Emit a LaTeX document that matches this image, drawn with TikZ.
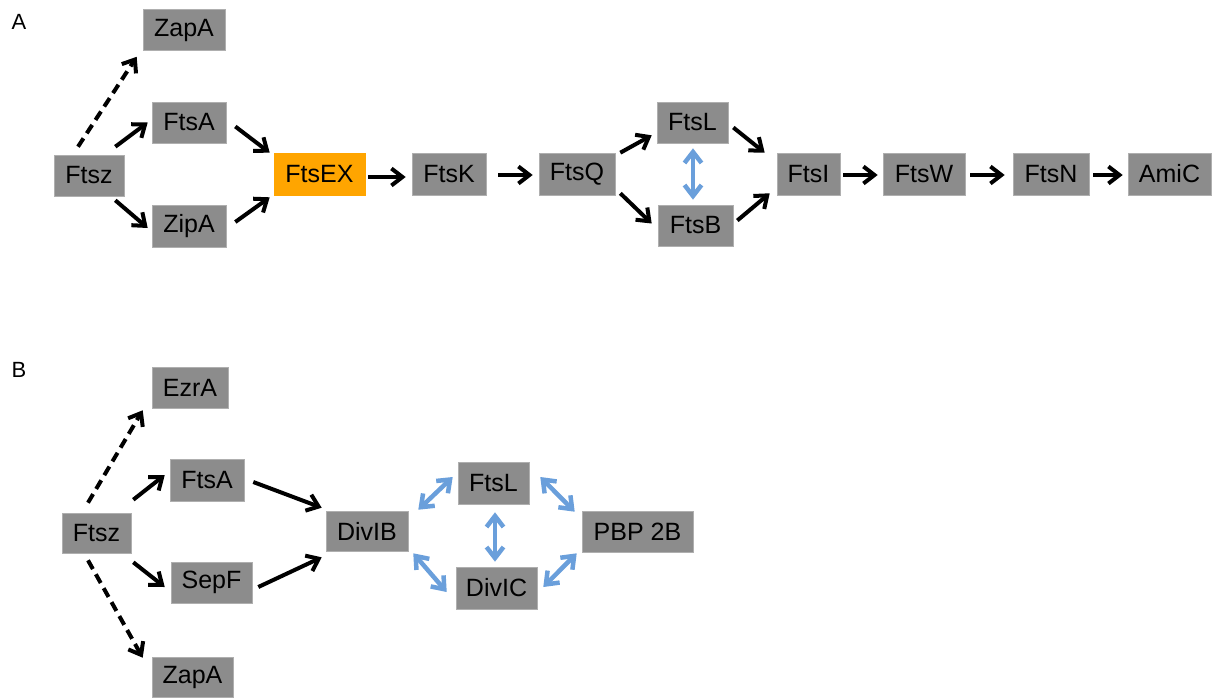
\documentclass[tikz,border=0pt]{standalone}
\usepackage{fontspec}
\setmainfont{Liberation Sans}
\usetikzlibrary{arrows.meta}
\definecolor{boxgrey}{HTML}{8C8C8C}
\definecolor{boxorange}{HTML}{FFA500}
\definecolor{linkblue}{HTML}{6A9FDB}
\tikzset{
  prot/.style={fill=boxgrey, draw=boxgrey!70!white, line width=0.6pt, inner sep=0pt, minimum height=41pt, text=black, font=\fontsize{25}{25}\selectfont},
  hl/.style={prot, fill=boxorange, draw=boxorange},
  act/.style={line width=4pt, -{Straight Barb[length=11pt,width=17pt,line width=4pt]}},
  dact/.style={act, dash pattern=on 10pt off 6pt},
  bind/.style={line width=4.5pt, draw=linkblue, {Straight Barb[length=11pt,width=17pt,line width=4.5pt]}-{Straight Barb[length=11pt,width=17pt,line width=4.5pt]}},
  panel/.style={font=\fontsize{22}{22}\selectfont}
}
\begin{document}
\begin{tikzpicture}[x=1pt,y=-1pt]
\useasboundingbox (0,0) rectangle (1213,697);
% Panel A
\node[panel] (labA) at (19,22) {A};
\node[prot, minimum width=82pt] (aZapA) at (184,30) {ZapA};
\node[prot, minimum width=74pt] (aFtsA) at (189,122.5) {FtsA};
\node[prot, minimum width=70pt] (aFtsz) at (89,175.5) {Ftsz};
\node[prot, minimum width=74pt, minimum height=42pt] (aZipA) at (189,226) {ZipA};
\node[hl, minimum width=91pt, minimum height=42pt] (aFtsEX) at (319.5,174) {FtsEX};
\node[prot, minimum width=74pt, minimum height=42pt] (aFtsK) at (449,174) {FtsK};
\node[prot, minimum width=76pt, minimum height=42pt] (aFtsQ) at (577,174) {FtsQ};
\node[prot, minimum width=71pt] (aFtsL) at (692.5,122.5) {FtsL};
\node[prot, minimum width=75pt] (aFtsB) at (695.5,225.5) {FtsB};
\node[prot, minimum width=63pt, minimum height=42pt] (aFtsI) at (808.5,174) {FtsI};
\node[prot, minimum width=82pt, minimum height=42pt] (aFtsW) at (924,174) {FtsW};
\node[prot, minimum width=76pt, minimum height=42pt] (aFtsN) at (1051,174) {FtsN};
\node[prot, minimum width=83pt, minimum height=42pt] (aAmiC) at (1169.5,174) {AmiC};

\draw[dact] ([shift={(-11,-8)}]aFtsz.north) -- ([shift={(-6,6)}]aZapA.south west);
\draw[act] ([shift={(-9,-8)}]aFtsz.north east) -- ([shift={(-4,0)}]aFtsA.west);
\draw[act] ([shift={(-9,4)}]aFtsz.south east) -- ([shift={(-4,2)}]aZipA.west);
\draw[act] ([shift={(9,4)}]aFtsA.east) -- ([shift={(-4,0)}]aFtsEX.north west);
\draw[act] ([shift={(9,-4)}]aZipA.east) -- ([shift={(-4,2)}]aFtsEX.south west);
\draw[act] ([shift={(3,3)}]aFtsEX.east) -- ([shift={(-6,3)}]aFtsK.west);
\draw[act] ([shift={(12,1)}]aFtsK.east) -- ([shift={(-6,1)}]aFtsQ.west);
\draw[act] ([shift={(5,0)}]aFtsQ.north east) -- ([shift={(-5,-8)}]aFtsL.south west);
\draw[act] ([shift={(5,-2)}]aFtsQ.south east) -- ([shift={(-6,-2)}]aFtsB.west);
\draw[act] ([shift={(5,5)}]aFtsL.east) -- ([shift={(-12,0)}]aFtsI.north west);
\draw[act] ([shift={(4,-5)}]aFtsB.east) -- ([shift={(-7,-2)}]aFtsI.south west);
\draw[bind] ([shift={(0.5,5)}]aFtsL.south) -- ([shift={(-2.5,-5)}]aFtsB.north);
\draw[act] ([shift={(3,1)}]aFtsI.east) -- ([shift={(-5,1)}]aFtsW.west);
\draw[act] ([shift={(5,1)}]aFtsW.east) -- ([shift={(-8,1)}]aFtsN.west);
\draw[act] ([shift={(4,1)}]aFtsN.east) -- ([shift={(-5,1)}]aAmiC.west);

% Panel B
\node[panel] (labB) at (19,370) {B};
\node[prot, minimum width=76pt] (bEzrA) at (190,387.5) {EzrA};
\node[prot, minimum width=74pt, minimum height=42pt] (bFtsA) at (207,480) {FtsA};
\node[prot, minimum width=69pt, minimum height=40pt] (bFtsz) at (96.5,533) {Ftsz};
\node[prot, minimum width=81pt] (bSepF) at (211.5,582.5) {SepF};
\node[prot, minimum width=81pt, minimum height=40pt] (bZapA) at (192.5,677) {ZapA};
\node[prot, minimum width=82pt, minimum height=40pt] (bDivIB) at (367,531) {DivIB};
\node[prot, minimum width=71pt, minimum height=42pt] (bFtsL) at (493.5,483) {FtsL};
\node[prot, minimum width=81pt, minimum height=42pt] (bDivIC) at (496.5,588) {DivIC};
\node[prot, minimum width=111pt] (bPBP) at (637.5,531.5) {PBP 2B};

\draw[dact] ([shift={(-8.5,-10)}]bFtsz.north) -- ([shift={(-9,2)}]bEzrA.south west);
\draw[act] ([shift={(2,-13)}]bFtsz.north east) -- ([shift={(-5,-5)}]bFtsA.west);
\draw[act] ([shift={(2,9)}]bFtsz.south east) -- ([shift={(-6,4.5)}]bSepF.west);
\draw[dact] ([shift={(-8.5,7)}]bFtsz.south) -- ([shift={(-9,1)}]bZapA.north west);
\draw[act] ([shift={(9,2)}]bFtsA.east) -- ([shift={(-4,-3)}]bDivIB.north west);
\draw[act] ([shift={(6,4.5)}]bSepF.east) -- ([shift={(-4,6)}]bDivIB.south west);
\draw[bind] ([shift={(10,-1)}]bDivIB.north east) -- ([shift={(-5,-6)}]bFtsL.west);
\draw[bind] ([shift={(11,-6)}]bFtsL.east) -- ([shift={(-7,1)}]bPBP.north west);
\draw[bind] ([shift={(1.5,8)}]bFtsL.south) -- ([shift={(-1.5,-5)}]bDivIC.north);
\draw[bind] ([shift={(5,2)}]bDivIB.south east) -- ([shift={(-9,4)}]bDivIC.west);
\draw[bind] ([shift={(-5,1)}]bPBP.south west) -- ([shift={(6,-1)}]bDivIC.east);
\end{tikzpicture}
\end{document}
